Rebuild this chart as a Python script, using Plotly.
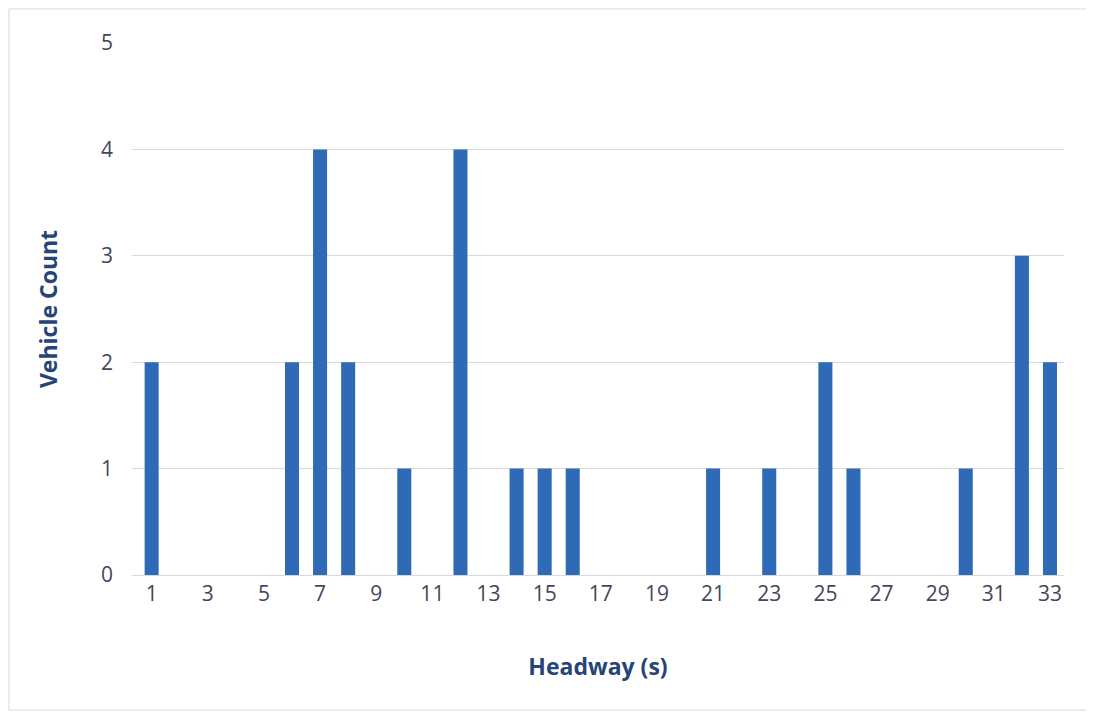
import plotly.graph_objects as go

# headway (s) and vehicle count per headway
headway = list(range(1, 34))
counts = [2, 0, 0, 0, 0, 2, 4, 2, 0, 1, 0, 4, 0, 1, 1, 1, 0, 0, 0, 0,
          1, 0, 1, 0, 2, 1, 0, 0, 0, 1, 0, 3, 2]
tick_vals = list(range(1, 34, 2))

fig = go.Figure()
fig.add_trace(go.Bar(
    x=headway,
    y=counts,
    width=0.5,
    marker=dict(color="#2E6AB5", line=dict(width=0)),
))

font_family = "Open Sans, Noto Sans, sans-serif"

# page body has an 8px margin, so the figure is a bit smaller than the window
fig.update_layout(
    width=1086,
    height=707,
    margin=dict(l=124, r=30, t=35, b=140),
    plot_bgcolor="white",
    paper_bgcolor="white",
    showlegend=False,
    font=dict(family=font_family, size=21, color="#44475A"),
    xaxis=dict(
        range=[0.3, 33.5],
        tickmode="array",
        tickvals=tick_vals,
        ticktext=[str(v) for v in tick_vals],
        showgrid=False,
        showline=True,
        linecolor="#D9D9D9",
        linewidth=1,
        ticks="",
        ticklabelstandoff=0,
        title=dict(text="<b>Headway (s)</b>", standoff=52,
                   font=dict(size=23, color="#264478")),
    ),
    yaxis=dict(
        range=[0, 5],
        dtick=1,
        showgrid=True,
        gridcolor="#D9D9D9",
        zeroline=False,
        ticks="",
        ticklabelstandoff=18,
        title=dict(text="<b>Vehicle Count</b>", standoff=36,
                   font=dict(size=23, color="#264478")),
    ),
    shapes=[dict(
        type="rect", xref="paper", yref="paper",
        x0=-0.132, x1=1.03, y0=-0.2538, y1=1.064,
        line=dict(color="#D9D9D9", width=1),
    )],
)

fig.write_html("out.html")
